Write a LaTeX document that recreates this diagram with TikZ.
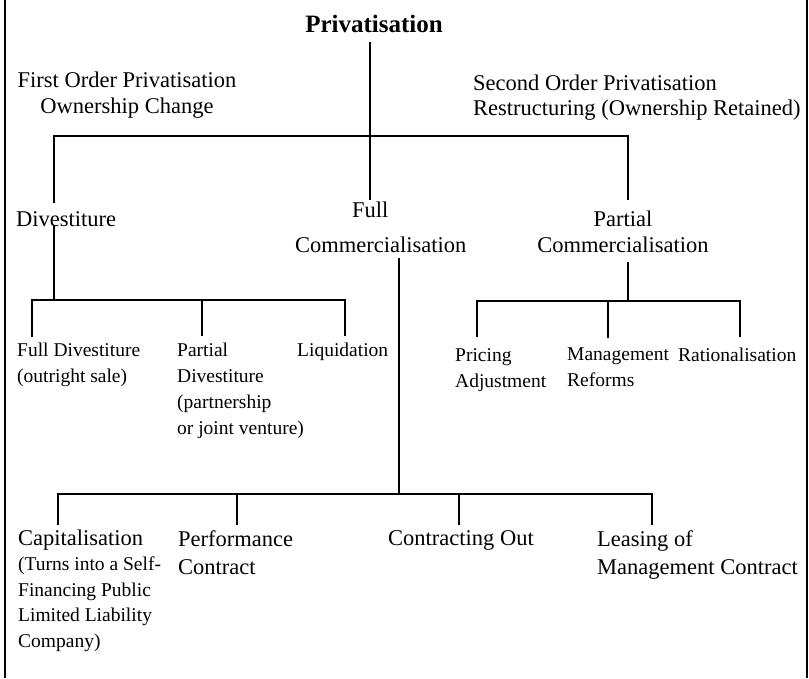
\documentclass[tikz,border=0pt]{standalone}
\usepackage{fontspec}
\setmainfont{Liberation Serif}
\begin{document}
\begin{tikzpicture}[x=1pt,y=-1pt,
  tree/.style={line width=2.8pt},
  frame/.style={line width=1.8pt},
  big/.style={font=\fontsize{22.5}{26}\selectfont, inner sep=0pt, align=left, anchor=north west},
  small/.style={font=\fontsize{19.5}{26}\selectfont, inner sep=0pt, align=left, anchor=north west},
]
\useasboundingbox (0,0) rectangle (809,678);
% frame
\draw[frame] (5,0) -- (5,678);
\draw[frame] (807,0) -- (807,678);

% title and first order labels
\node[font=\bfseries\fontsize{25}{30}\selectfont, inner sep=0pt, anchor=north] (title) at (374,15) {Privatisation};
\node[big, align=center, anchor=north] (first) at (127,72) {First Order Privatisation\\Ownership Change};
\node[big, font=\fontsize{22.5}{25}\selectfont] (second) at (473,75) {Second Order Privatisation\\Restructuring (Ownership Retained)};

% level 2
\node[big] (div) at (16,211) {Divestiture};
\node[big] (fc) at (295,202) {\hspace*{57pt}Full\\[9pt]Commercialisation};
\node[big, align=center, anchor=north] (pc) at (623,211) {Partial\\Commercialisation};

% divestiture children
\node[small] (fd) at (17,343) {Full Divestiture\\(outright sale)};
\node[small] (pd) at (177,343) {Partial\\Divestiture\\(partnership\\or joint venture)};
\node[small] (lq) at (297,343) {Liquidation};

% partial commercialisation children
\node[small] (pa) at (455,348) {Pricing\\Adjustment};
\node[small] (mr) at (567,348) {Management\\Reforms};
\node[small] (ra) at (678,348) {Rationalisation};

% full commercialisation children
\node[big] (cap) at (18,530) {Capitalisation};
\node[small, font=\fontsize{19.5}{25.5}\selectfont] (capn) at (18,557) {(Turns into a Self-\\Financing Public\\Limited Liability\\Company)};
\node[big, font=\fontsize{22.5}{28}\selectfont] (pf) at (178,530) {Performance\\Contract};
\node[big] (co) at (388,530) {Contracting Out};
\node[big, font=\fontsize{22.5}{28}\selectfont] (lm) at (597,530) {Leasing of\\Management Contract};

% junction coordinates
\coordinate (root) at (370,42);
\coordinate (j0) at (370,136);
\coordinate (fcT) at (370,200);
\coordinate (divT) at (54,203);
\coordinate (pcT) at (628,200);

\coordinate (divB) at (54,225);
\coordinate (dj) at (54,300);
\coordinate (fdT) at (32,337);
\coordinate (pdT) at (202,336);
\coordinate (lqT) at (345,336);

\coordinate (pcB) at (628,262);
\coordinate (pj) at (628,301);
\coordinate (paT) at (477,337);
\coordinate (mrT) at (608,338);
\coordinate (raT) at (740,337);

\coordinate (fcB) at (399,258);
\coordinate (fj) at (399,494);
\coordinate (capT) at (58,525);
\coordinate (pfT) at (237,525);
\coordinate (coT) at (459,525);
\coordinate (lmT) at (652,525);

% level 1 connectors
\draw[tree] (root) -- (fcT);
\draw[tree] (divT) |- (j0) -| (pcT);

% divestiture
\draw[tree] (divB) -- (dj);
\draw[tree] (fdT) |- (dj) -| (lqT);
\draw[tree] (pdT) -- (pdT |- dj);

% partial commercialisation
\draw[tree] (pcB) -- (pj);
\draw[tree] (paT) |- (pj) -| (raT);
\draw[tree] (mrT) -- (mrT |- pj);

% full commercialisation
\draw[tree] (fcB) -- (fj);
\draw[tree] (capT) |- (fj) -| (lmT);
\draw[tree] (pfT) -- (pfT |- fj);
\draw[tree] (coT) -- (coT |- fj);
\end{tikzpicture}
\end{document}
